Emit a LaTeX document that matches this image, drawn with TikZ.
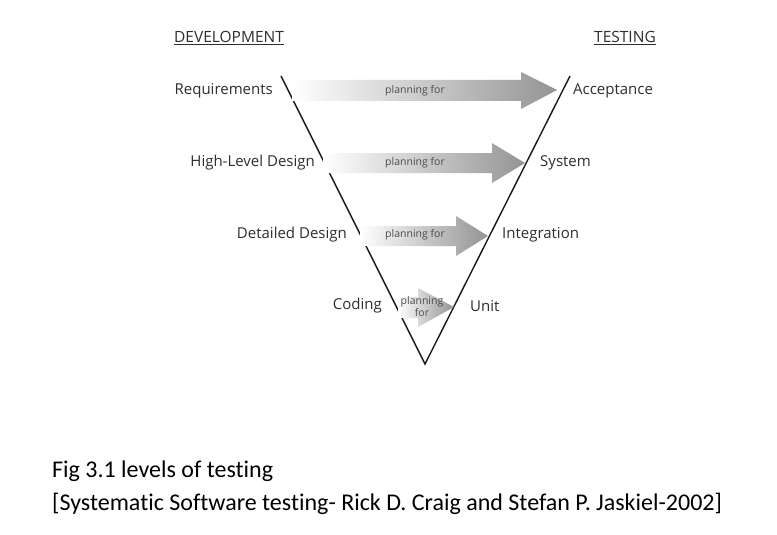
\documentclass[tikz,border=0pt]{standalone}
\usepackage{fontspec}
\setmainfont{Open Sans}
\newfontfamily\capfont[Ligatures=NoCommon]{Carlito}
\begin{document}
\begin{tikzpicture}[x=1pt,y=-1pt,
  lbl/.style={inner sep=0pt,font=\fontsize{15}{18}\selectfont,text=black!82},
  hdr/.style={inner sep=0pt,font=\fontsize{15.5}{18}\selectfont,text=black!82},
  plan/.style={inner sep=0pt,font=\fontsize{10.5}{13}\selectfont,text=black!70,align=center},
  vline/.style={line width=1.4pt,black!90},
  arr/.style={left color=white,right color=black!42},
  captext/.style={inner sep=0pt,anchor=west,font=\capfont\fontsize{24}{28}\selectfont}]
\useasboundingbox[fill=white] (0,0) rectangle (777,535);
% V shape
\coordinate (lt) at (281,76);
\coordinate (rt) at (570,76);
\coordinate (bt) at (425,364);
\draw[vline] (lt) -- (bt) -- (rt);
% arrows
\shade[arr] (292,80) -- (521,80) -- (521,72) -- (557,90) -- (521,109) -- (521,101) -- (292,101) -- cycle;
\shade[arr] (323,153) -- (492,153) -- (492,143) -- (525,163) -- (492,183) -- (492,173) -- (323,173) -- cycle;
\shade[arr] (360,226) -- (456,226) -- (456,216) -- (488,236) -- (456,256) -- (456,246) -- (360,246) -- cycle;
\shade[arr] (398,297) -- (418,297) -- (418,288) -- (454,307) -- (418,327) -- (418,318) -- (398,318) -- cycle;
% headers
\node[hdr] (dev) at (229,38) {\underline{DEVELOPMENT}};
\node[hdr] (tst) at (625,38) {\underline{TESTING}};
% left labels
\node[lbl,anchor=east] (req) at (273,90.5) {Requirements};
\node[lbl,anchor=east] (hld) at (315,162.5) {High-Level Design};
\node[lbl,anchor=east] (dd) at (347,234.5) {Detailed Design};
\node[lbl,anchor=east] (cod) at (382,306) {Coding};
% right labels
\node[lbl,anchor=west] (acc) at (573,90.5) {Acceptance};
\node[lbl,anchor=west] (sys) at (540,162.5) {System};
\node[lbl,anchor=west] (int) at (502,234.5) {Integration};
\node[lbl,anchor=west] (unit) at (470,306) {Unit};
% planning labels
\node[plan] (p1) at (415,91) {planning for};
\node[plan] (p2) at (415,163) {planning for};
\node[plan] (p3) at (415,235) {planning for};
\node[plan] (p4) at (422,307) {planning\\[-1pt]for};
% caption
\node[captext] (c1) at (52,471) {Fig 3.1 levels of testing};
\node[captext] (c2) at (52,504) {[Systematic Software testing- Rick D. Craig and Stefan P. Jaskiel-2002]};
\end{tikzpicture}
\end{document}
